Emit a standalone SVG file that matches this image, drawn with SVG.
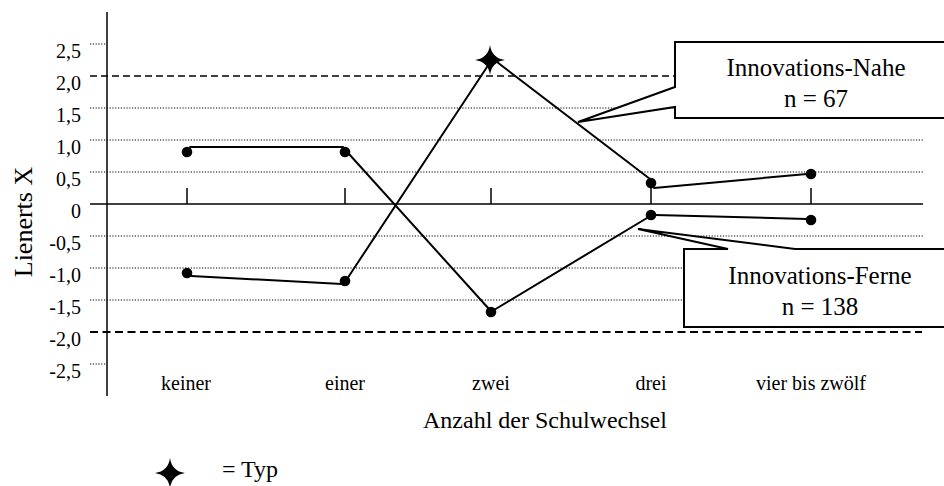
<svg xmlns="http://www.w3.org/2000/svg" width="944" height="486" viewBox="0 0 944 486">
  <defs>
    <style>
      text { font-family: "Liberation Serif", "Times New Roman", serif; fill: #000; }
      .tick-label { font-size: 20px; text-anchor: end; }
      .cat { font-size: 20px; text-anchor: middle; }
      .title { font-size: 24px; }
      .callout-text { font-size: 25px; text-anchor: middle; }
      .axis { stroke: #000; stroke-width: 1.5; fill: none; }
      .dot-grid { stroke: #000; stroke-width: 1; stroke-dasharray: 1.2 1.6; fill: none; }
      .dash-grid { stroke: #000; stroke-width: 1.5; stroke-dasharray: 7 4; fill: none; }
      .dash-grid-thick { stroke: #000; stroke-width: 2; stroke-dasharray: 8 4.5; fill: none; }
      .series { stroke: #000; stroke-width: 2; fill: none; stroke-linecap: round; }
      .dot { fill: #000; }
      .callout { fill: #fff; stroke: #000; stroke-width: 2; stroke-linejoin: miter; }
      .star { fill: #000; }
    </style>
    <path id="star4" d="M0,-15 Q1.8,-1.8 15,0 Q1.8,1.8 0,15 Q-1.8,1.8 -15,0 Q-1.8,-1.8 0,-15 Z"/>
  </defs>
  <rect width="944" height="486" fill="#fff"/>

  <g id="grid">
    <line class="dot-grid" x1="90" y1="44" x2="107" y2="44"/>
    <line class="dash-grid" x1="90" y1="76" x2="676" y2="76"/>
    <line class="dot-grid" x1="90" y1="108" x2="923" y2="108"/>
    <line class="dot-grid" x1="90" y1="140" x2="923" y2="140"/>
    <line class="dot-grid" x1="90" y1="172" x2="923" y2="172"/>
    <line class="dot-grid" x1="90" y1="236" x2="923" y2="236"/>
    <line class="dot-grid" x1="90" y1="268" x2="923" y2="268"/>
    <line class="dot-grid" x1="90" y1="300" x2="923" y2="300"/>
    <line class="dash-grid-thick" x1="90" y1="332" x2="922" y2="332"/>
    <line class="dot-grid" x1="90" y1="364" x2="107" y2="364"/>
  </g>

  <g id="axes">
    <line class="axis" x1="107" y1="12" x2="107" y2="396"/>
    <line class="axis" x1="90" y1="204" x2="923" y2="204"/>
    <line class="axis" x1="187" y1="188" x2="187" y2="204"/>
    <line class="axis" x1="345" y1="188" x2="345" y2="204"/>
    <line class="axis" x1="491" y1="188" x2="491" y2="204"/>
    <line class="axis" x1="651" y1="184" x2="651" y2="204"/>
    <line class="axis" x1="811" y1="188" x2="811" y2="204"/>
  </g>

  <g id="tick-labels">
    <text class="tick-label" x="81" y="58">2,5</text>
    <text class="tick-label" x="81" y="90">2,0</text>
    <text class="tick-label" x="81" y="122">1,5</text>
    <text class="tick-label" x="81" y="154">1,0</text>
    <text class="tick-label" x="81" y="186">0,5</text>
    <text class="tick-label" x="81" y="218">0</text>
    <text class="tick-label" x="81" y="250">-0,5</text>
    <text class="tick-label" x="81" y="282">-1,0</text>
    <text class="tick-label" x="81" y="314">-1,5</text>
    <text class="tick-label" x="81" y="346">-2,0</text>
    <text class="tick-label" x="81" y="378">-2,5</text>
  </g>

  <g id="y-title">
    <text class="title" font-size="26" text-anchor="middle" transform="translate(32,222) rotate(-90)" style="font-size:26px">Lienerts X</text>
  </g>

  <g id="categories">
    <text class="cat" x="186" y="390">keiner</text>
    <text class="cat" x="345" y="390">einer</text>
    <text class="cat" x="491" y="390">zwei</text>
    <text class="cat" x="651" y="390">drei</text>
    <text class="cat" x="811" y="390">vier bis zwölf</text>
  </g>

  <g id="x-title">
    <text class="title" x="423" y="428">Anzahl der Schulwechsel</text>
  </g>

  <g id="connectors">
    <line class="series" x1="190" y1="147" x2="343" y2="147"/>
    <line class="series" x1="349" y1="154" x2="489" y2="309"/>
    <line class="series" x1="494" y1="310" x2="647" y2="218"/>
    <line class="series" x1="655" y1="215" x2="807" y2="219"/>
    <line class="series" x1="191" y1="276" x2="342" y2="284"/>
    <line class="series" x1="347" y1="279" x2="489" y2="64"/>
    <line class="series" x1="497" y1="62" x2="650" y2="179"/>
    <line class="series" x1="654" y1="188" x2="807" y2="174"/>
  </g>

  <g id="markers">
    <circle class="dot" cx="187" cy="152" r="5.3"/>
    <circle class="dot" cx="345" cy="152" r="5.3"/>
    <circle class="dot" cx="491" cy="312" r="5.3"/>
    <circle class="dot" cx="651" cy="215" r="5.3"/>
    <circle class="dot" cx="811" cy="220" r="5.3"/>
    <circle class="dot" cx="187" cy="273" r="5.3"/>
    <circle class="dot" cx="345" cy="281" r="5.3"/>
    <circle class="dot" cx="651" cy="183" r="5.3"/>
    <circle class="dot" cx="811" cy="174" r="5.3"/>
    <use href="#star4" class="star" x="490" y="60"/>
  </g>

  <g id="node-nahe">
    <path class="callout" d="M675,42 H946 V118 H675 V107 L578,122 L675,87 Z"/>
    <text class="callout-text" x="816" y="76">Innovations-Nahe</text>
    <text class="callout-text" x="816" y="107">n = 67</text>
  </g>

  <g id="node-ferne">
    <path class="callout" d="M684,249 H728 L638,229 L795,249 H946 V327 H684 Z"/>
    <text class="callout-text" x="820" y="284">Innovations-Ferne</text>
    <text class="callout-text" x="820" y="315">n = 138</text>
  </g>

  <g id="legend">
    <use href="#star4" class="star" x="170" y="473"/>
    <text class="title" x="222" y="477">= Typ</text>
  </g>
</svg>
